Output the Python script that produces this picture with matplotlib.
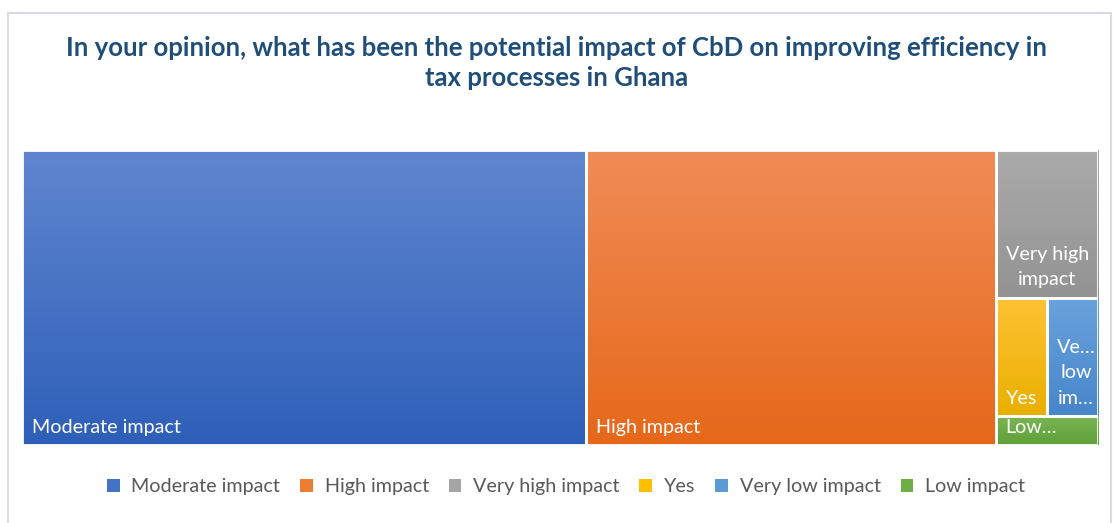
import matplotlib.pyplot as plt
import numpy as np
from matplotlib.patches import Rectangle, Patch
from matplotlib.colors import to_rgb
from matplotlib.lines import Line2D

plt.rcParams['font.family'] = ['Lato', 'DejaVu Sans']

title = ("In your opinion, what has been the potential impact of CbD on improving efficiency in\n"
         "tax processes in Ghana")
categories = ["Moderate impact", "High impact", "Very high impact", "Yes",
              "Very low impact", "Low impact"]
counts = [55, 40, 5, 2, 2, 1]
tile_labels = ["Moderate impact", "High impact", "Very high\nimpact", "Yes",
               "Ve\u2026\nlow\nim\u2026", "Low\u2026"]

# (top, bottom) colour of each tile's gradient
shades = [("#5F86CF", "#2E5FB8"), ("#F08C56", "#E6681A"), ("#ABABAB", "#939393"),
          ("#FFC235", "#E9B000"), ("#6AA2DC", "#4786CA"), ("#7BB655", "#5F9F38")]
legend_colors = ["#4472C4", "#ED7D31", "#A5A5A5", "#FFC000", "#5B9BD5", "#70AD47"]


def split(rect, idx_groups, horizontal):
    """Slice rect into pieces proportional to each group's total count."""
    x, y, w, h = rect
    totals = [sum(counts[i] for i in g) for g in idx_groups]
    s = sum(totals)
    out = []
    pos = 0.0
    for t in totals:
        f = t / s
        if horizontal:
            out.append((x + pos * w, y, f * w, h))
        else:
            out.append((x, y + h - (pos + f) * h, w, f * h))
        pos += f
    return out


rects = {}
cols = split((0, 0, 1, 1), [[0], [1], [2, 3, 4, 5]], True)
rects[0], rects[1] = cols[0], cols[1]
rows = split(cols[2], [[2], [3, 4], [5]], False)
rects[2], rects[5] = rows[0], rows[2]
rects[3], rects[4] = split(rows[1], [[3], [4]], True)

fig = plt.figure(figsize=(11.14, 5.23), dpi=100)
ax = fig.add_axes([22 / 1114, 1 - 445 / 523, 1076 / 1114, 295 / 523])
ax.set_xlim(0, 1)
ax.set_ylim(0, 1)
ax.axis('off')

W, H = 1076, 295
for i in range(len(counts)):
    x, y, w, h = rects[i]
    top, bot = np.array(to_rgb(shades[i][0])), np.array(to_rgb(shades[i][1]))
    t = np.linspace(0, 1, 64)[:, None]
    grad = (top * (1 - t) + bot * t)[:, None, :].repeat(2, axis=1)
    ax.imshow(grad, extent=(x, x + w, y, y + h), aspect='auto',
              interpolation='bilinear', zorder=1)
    ax.add_patch(Rectangle((x, y), w, h, fill=False, edgecolor='white',
                           linewidth=2, zorder=2))
    ax.text(x + 10 / W, y + 9 / H, tile_labels[i], color='white', fontsize=14.2,
            ha='left', va='bottom', multialignment='center', linespacing=1.6,
            zorder=3)

fig.text(0.5, 1 - 63 / 523, title, ha='center', va='center', fontsize=18.5,
         fontweight='bold', color='#1F4E79', linespacing=1.35)

handles = [Patch(facecolor=c, edgecolor='none') for c in legend_colors]
fig.legend(handles, categories, loc='center',
           bbox_to_anchor=(0.5 + 9 / 1114, 1 - 487 / 523),
           ncol=6, frameon=False, fontsize=14.2, handlelength=0.65,
           handleheight=0.65, handletextpad=0.6, columnspacing=1.0,
           labelcolor='#595959')

# chart frame
fc = '#D9DDE3'
fig.add_artist(Line2D([8 / 1114, 8 / 1114], [0, 1 - 13 / 523], color=fc, lw=1.5))
fig.add_artist(Line2D([8 / 1114, 1111 / 1114], [1 - 13 / 523, 1 - 13 / 523], color=fc, lw=1.5))
fig.add_artist(Line2D([1111 / 1114, 1111 / 1114], [0, 1 - 13 / 523], color=fc, lw=1.5))

fig.savefig('out.png', dpi=100)
